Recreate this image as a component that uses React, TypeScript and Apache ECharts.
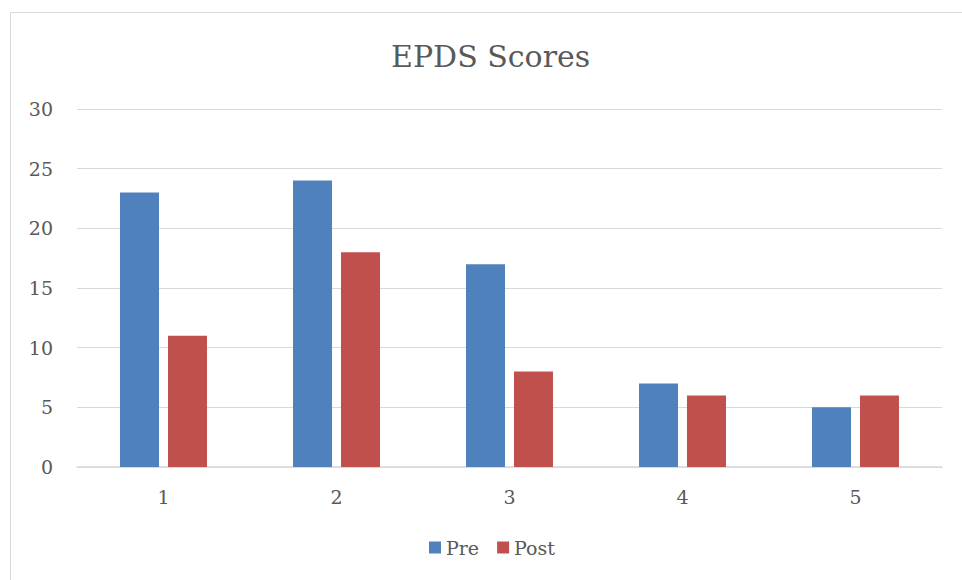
import React, { useEffect, useRef } from "react";
import * as echarts from "echarts";

const categories = ["1", "2", "3", "4", "5"];
const preValues = [23, 24, 17, 7, 5];
const postValues = [11, 18, 8, 6, 6];
const seriesNames = ["Pre", "Post"];
const titleText = "EPDS Scores";

const FONT = "'DejaVu Serif', serif";

export default function App() {
  const ref = useRef<HTMLDivElement>(null);
  useEffect(() => {
    if (!ref.current) return;
    const chart = echarts.init(ref.current, null, { renderer: "svg" });
    chart.setOption({
      animation: false,
      backgroundColor: "#ffffff",
      title: {
        text: titleText,
        left: 386,
        top: 36,
        textStyle: { fontFamily: FONT, fontSize: 30, fontWeight: "normal", color: "#595959" },
      },
      graphic: [
        { type: "line", shape: { x1: 10.5, y1: 12.5, x2: 962, y2: 12.5 }, style: { stroke: "#d9d9d9", lineWidth: 1 } },
        { type: "line", shape: { x1: 10.5, y1: 12.5, x2: 10.5, y2: 580 }, style: { stroke: "#d9d9d9", lineWidth: 1 } },
      ],
      legend: {
        data: seriesNames,
        bottom: 18,
        left: 424,
        itemWidth: 12,
        itemHeight: 12,
        itemGap: 18,
        icon: "rect",
        textStyle: { fontFamily: FONT, fontSize: 19, color: "#595959" },
      },
      grid: { left: 77, right: 20, top: 109, bottom: 113, containLabel: false },
      xAxis: {
        type: "category",
        data: categories,
        axisLine: { lineStyle: { color: "#d9d9d9", width: 1.5 } },
        axisTick: { show: false },
        axisLabel: { fontFamily: FONT, fontSize: 19, color: "#595959", margin: 20 },
      },
      yAxis: {
        type: "value",
        min: 0,
        max: 30,
        interval: 5,
        axisLine: { show: false },
        axisTick: { show: false },
        splitLine: { lineStyle: { color: "#d9d9d9", width: 1 } },
        axisLabel: { fontFamily: FONT, fontSize: 19, color: "#595959", margin: 24 },
      },
      series: [
        { name: seriesNames[0], type: "bar", data: preValues, barWidth: 39, barGap: "23%", itemStyle: { color: "#4f81bd" } },
        { name: seriesNames[1], type: "bar", data: postValues, barWidth: 39, barGap: "23%", itemStyle: { color: "#c0504d" } },
      ],
    });
    return () => chart.dispose();
  }, []);
  return <div ref={ref} style={{ position: "absolute", left: 0, top: 0, width: 962, height: 580 }} />;
}
